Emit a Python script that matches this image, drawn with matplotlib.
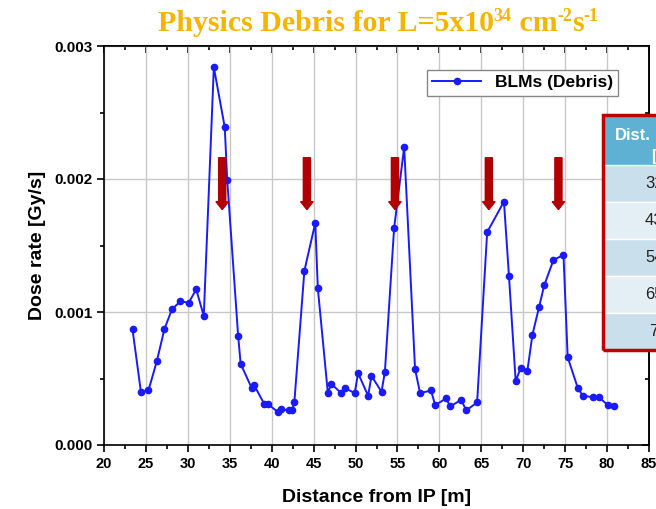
import numpy as np
import matplotlib.pyplot as plt
from matplotlib.patches import Rectangle
from matplotlib.ticker import MultipleLocator, FormatStrFormatter

# distancia desde el IP [m] y dosis [Gy/s]
distancia = [23.4, 24.4, 25.3, 26.3, 27.2, 28.1, 29.1, 30.1, 31.0, 31.9,
             33.1, 34.4, 34.7, 36.0, 36.3, 37.6, 37.9, 39.1, 39.5, 40.7,
             41.1, 42.1, 42.4, 42.7, 43.9, 45.2, 45.5, 46.7, 47.1, 48.3,
             48.7, 49.9, 50.3, 51.5, 51.9, 53.1, 53.5, 54.6, 55.8, 57.1,
             57.7, 59.0, 59.5, 60.8, 61.3, 62.6, 63.2, 64.5, 65.7, 67.7,
             68.3, 69.1, 69.7, 70.5, 71.1, 71.9, 72.5, 73.6, 74.8, 75.3,
             76.5, 77.1, 78.3, 79.0, 80.1, 80.8]
dosis = [0.00087, 0.00040, 0.00041, 0.00063, 0.00087, 0.00102, 0.00108, 0.00107, 0.00117, 0.00097,
         0.00284, 0.00239, 0.00199, 0.00082, 0.00061, 0.00043, 0.00045, 0.00031, 0.00031, 0.00025,
         0.00027, 0.00026, 0.00026, 0.00032, 0.00131, 0.00167, 0.00118, 0.00039, 0.00046, 0.00039,
         0.00043, 0.00039, 0.00054, 0.00037, 0.00052, 0.00040, 0.00055, 0.00163, 0.00224, 0.00057,
         0.00039, 0.00041, 0.00030, 0.00035, 0.00029, 0.00034, 0.00026, 0.00032, 0.00160, 0.00183,
         0.00127, 0.00048, 0.00058, 0.00056, 0.00083, 0.00104, 0.00120, 0.00139, 0.00143, 0.00066,
         0.00043, 0.00037, 0.00036, 0.00036, 0.00030, 0.00029]

# posiciones de las flechas rojas
flechas_x = [34.1, 44.2, 54.7, 65.9, 74.2]
flecha_y0 = 0.00216
flecha_y1 = 0.00177

# tabla recortada a la derecha
tabla_header = ["Dist.", "["]
tabla_filas = ["32.5", "43.5", "54.5", "65.5", "7"]

# titulo en partes: (texto, es_superindice)
titulo = [("Physics Debris for L=5x10", False), ("34", True), (" cm", False),
          ("-2", True), ("s", False), ("-1", True)]

W, H = 656, 509
fig = plt.figure(figsize=(W / 100, H / 100), dpi=100)
ax = fig.add_axes([104 / W, 1 - 445 / H, (649 - 104) / W, (445 - 46) / H])

ax.grid(True, which='major', color='#c8c8c8', linewidth=1.0)
ax.set_axisbelow(True)

ax.plot(distancia, dosis, color='#1a1aff', marker='o', markersize=4.5,
        linewidth=1.4, label='BLMs (Debris)', zorder=3)

for x in flechas_x:
    ax.arrow(x, flecha_y0, 0, flecha_y1 - flecha_y0, width=0.85, head_width=1.5,
             head_length=0.00006, length_includes_head=True,
             color='#b00000', zorder=4)

ax.set_xlim(20, 85)
ax.set_ylim(0, 0.003)
ax.xaxis.set_major_locator(MultipleLocator(5))
ax.xaxis.set_minor_locator(MultipleLocator(2.5))
ax.yaxis.set_major_locator(MultipleLocator(0.001))
ax.yaxis.set_minor_locator(MultipleLocator(0.0005))
ax.yaxis.set_major_formatter(FormatStrFormatter('%.3f'))

ax.tick_params(which='both', direction='out', top=False, right=False, width=1.2)
ax.tick_params(axis='x', labelsize=10.5)
ax.tick_params(axis='y', labelsize=11)
ax.tick_params(which='major', length=5)
ax.tick_params(which='minor', length=3)
for lab in ax.get_xticklabels() + ax.get_yticklabels():
    lab.set_fontweight('bold')
    lab.set_family('Liberation Sans')

# ticks hacia adentro arriba y a la derecha
sec_x = ax.secondary_xaxis('top')
sec_x.xaxis.set_major_locator(MultipleLocator(5))
sec_x.xaxis.set_minor_locator(MultipleLocator(2.5))
sec_x.set_xticklabels([])
sec_y = ax.secondary_yaxis('right')
sec_y.yaxis.set_major_locator(MultipleLocator(0.001))
sec_y.yaxis.set_minor_locator(MultipleLocator(0.0005))
sec_y.set_yticklabels([])
for sec, side in [(sec_x, 'top'), (sec_y, 'right')]:
    sec.tick_params(which='both', direction='in', width=1.2)
    sec.tick_params(which='major', length=5)
    sec.tick_params(which='minor', length=3)
    sec.spines[side].set_linewidth(1.2)

for s in ax.spines.values():
    s.set_linewidth(1.2)

ax.set_xlabel('Distance from IP [m]', fontsize=14, fontweight='bold',
              family='Liberation Sans', labelpad=13)
ax.set_ylabel('Dose rate [Gy/s]', fontsize=14, fontweight='bold',
              family='Liberation Sans', labelpad=6)

leg = ax.legend(loc='upper left', bbox_to_anchor=(427 / W, 1 - 70 / H),
                bbox_transform=fig.transFigure, fancybox=False, framealpha=1,
                edgecolor='#888888', handlelength=2.8, borderpad=0.3, borderaxespad=0,
                prop={'family': 'Liberation Sans', 'weight': 'bold', 'size': 12.5})
leg.get_frame().set_linewidth(1.0)

# titulo armado por partes
renderer = fig.canvas.get_renderer()
piezas = []
for t, sup in titulo:
    txt = fig.text(0, 0, t, fontsize=13 if sup else 21.5, fontweight='bold',
                   family='Liberation Serif', color='#f5b400', ha='left', va='baseline')
    w = txt.get_window_extent(renderer).width
    piezas.append((txt, sup, w))
total = sum(p[2] for p in piezas)
xc = 378 - total / 2
base = H - 31
for txt, sup, w in piezas:
    y = base + (10 if sup else 0)
    txt.set_position((xc / W, y / H))
    xc += w

# tabla (cortada por el borde)
def px(x, y):
    return x / W, 1 - y / H

x0, top, hdr_bot, fila_h = 603, 115, 165, 37
colores = ['#c9dfec', '#e4eef5']
fig.add_artist(Rectangle(px(x0, hdr_bot), 80 / W, (hdr_bot - top) / H,
                         transform=fig.transFigure, facecolor='#5fb1d4', edgecolor='none'))
for i, t in enumerate(tabla_filas):
    yb = hdr_bot + (i + 1) * fila_h
    fig.add_artist(Rectangle(px(x0, yb), 80 / W, fila_h / H, transform=fig.transFigure,
                             facecolor=colores[i % 2], edgecolor='white', linewidth=1))
    xt = 649 if i == 4 else 645
    fig.text(*px(xt, yb - fila_h / 2), t, ha='left', va='center', fontsize=12,
             family='Liberation Sans', color='#222222')
fig.text(*px(615, 135), tabla_header[0], ha='left', va='center', fontsize=12,
         fontweight='bold', family='Liberation Sans', color='white')
fig.text(*px(651, 157), tabla_header[1], ha='left', va='center', fontsize=12,
         fontweight='bold', family='Liberation Sans', color='white')
bot = hdr_bot + 5 * fila_h
fig.add_artist(Rectangle(px(x0, bot), 80 / W, (bot - top) / H, transform=fig.transFigure,
                         facecolor='none', edgecolor='#c00000', linewidth=2.5))

fig.savefig('out.png', dpi=100)
